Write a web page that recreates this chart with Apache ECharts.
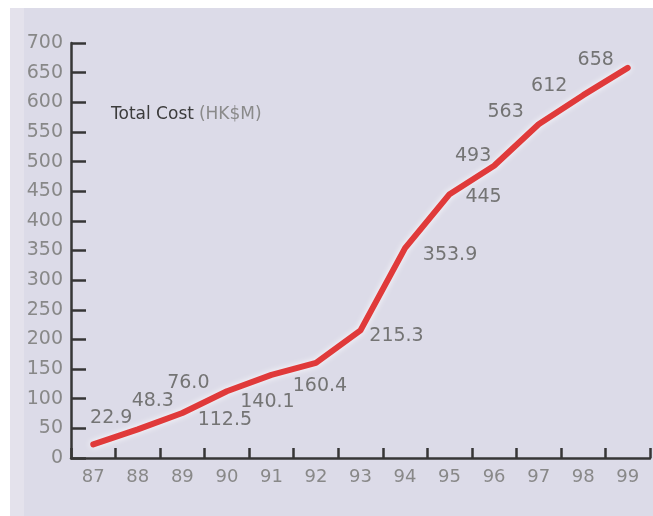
<!DOCTYPE html>
<html>
<head>
<meta charset="utf-8">
<script src="https://cdn.jsdelivr.net/npm/echarts@6/dist/echarts.min.js"></script>
<style>
html,body{margin:0;padding:0;background:#ffffff;}
#chart{width:653px;height:516px;}
</style>
</head>
<body>
<div id="chart"></div>
<script>
// Data
var years = ['87','88','89','90','91','92','93','94','95','96','97','98','99'];
var totalCost = [22.9, 48.3, 76.0, 112.5, 140.1, 160.4, 215.3, 353.9, 445, 493, 563, 612, 658];
var titleMain = 'Total Cost';
var titleUnit = '(HK$M)';

// Label placement (style only, px offsets from each point)
var labelOffsets = [
  [18,-26],[15,-28],[6,-30],[-2,29],[-4,27],[4,23],[36,6],
  [45,7],[34,3],[-21,-10],[-33,-12],[-34,-9],[-32,-8]
];

var chart = echarts.init(document.getElementById('chart'), null, {renderer:'canvas'});
var font = 'DejaVu Sans';

var option = {
  backgroundColor: '#ffffff',
  animation: false,
  graphic: [
    {type:'rect', z:-10, shape:{x:10,y:8,width:643,height:508}, style:{fill:'#dcdbe8'}},
    {type:'rect', z:-9, shape:{x:10,y:8,width:14,height:508}, style:{fill:'#e4e2ec'}}
  ],
  title: {
    text: '{a|' + titleMain + '} {b|' + titleUnit + '}',
    left: 106,
    top: 101,
    textStyle: {
      fontWeight: 'normal',
      rich: {
        a: {fontFamily: font, fontSize: 17, fontWeight: 'normal', color: '#3c3c3c'},
        b: {fontFamily: font, fontSize: 17, fontWeight: 'normal', color: '#8a8a8a'}
      }
    }
  },
  grid: {left: 71, right: 3, top: 43, bottom: 58},
  xAxis: {
    type: 'category',
    data: years,
    boundaryGap: true,
    axisLine: {show: true, lineStyle: {color: '#363636', width: 2.5}},
    axisTick: {show: true, inside: true, length: 10, lineStyle: {color: '#363636', width: 2.5}},
    axisLabel: {fontFamily: font, fontSize: 18, color: '#888888', margin: 10},
    splitLine: {show: false}
  },
  yAxis: {
    type: 'value',
    min: 0,
    max: 700,
    interval: 50,
    axisLine: {show: true, lineStyle: {color: '#363636', width: 2.5}},
    axisTick: {show: true, inside: true, length: 15, lineStyle: {color: '#363636', width: 2.5}},
    axisLabel: {fontFamily: font, fontSize: 19, color: '#888888', margin: 8},
    splitLine: {show: false}
  },
  series: [{
    type: 'line',
    data: totalCost.map(function (v, i) {
      return {value: v, label: {offset: labelOffsets[i]}};
    }),
    symbol: 'circle',
    symbolSize: 2,
    showSymbol: true,
    itemStyle: {color: '#e03a3a'},
    lineStyle: {color: '#e03a3a', width: 6, cap: 'round', join: 'round',
      shadowColor: 'rgba(255,255,255,0.95)', shadowBlur: 6},
    label: {
      show: true,
      position: 'inside',
      align: 'center',
      verticalAlign: 'middle',
      fontFamily: font,
      fontSize: 19,
      color: '#747474',
      formatter: function (p) {
        var v = p.value;
        return (Number.isInteger(v) && v > 300) ? String(v) : v.toFixed(1);
      }
    }
  }]
};
chart.setOption(option);
</script>
</body>
</html>
